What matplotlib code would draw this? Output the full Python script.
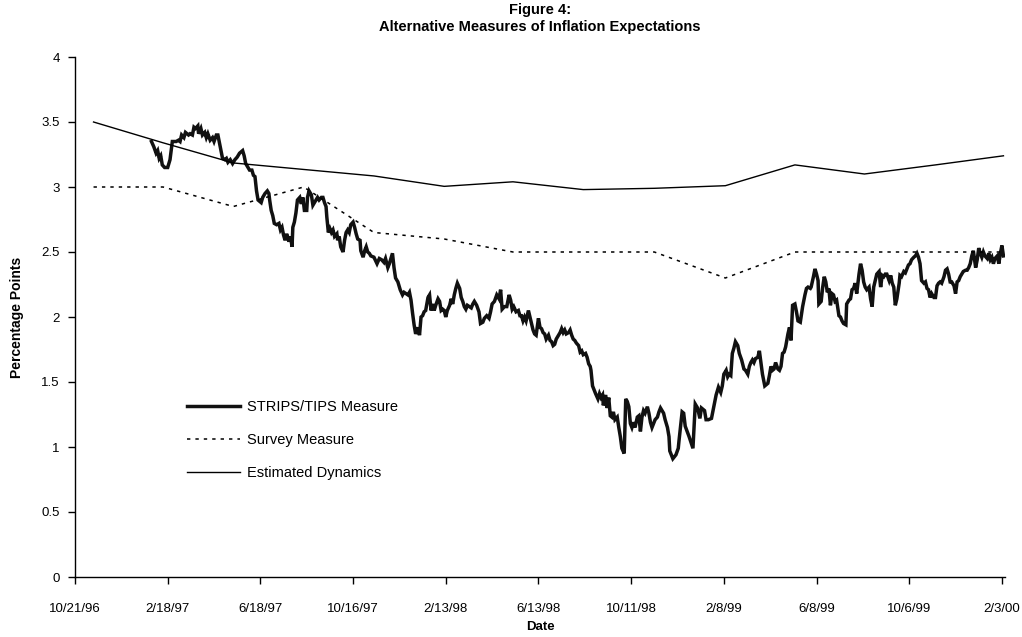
import pandas as pd
import numpy as np
import matplotlib
matplotlib.use('Agg')
import matplotlib.pyplot as plt
from matplotlib.lines import Line2D

plt.rcParams['font.family'] = ['Liberation Sans', 'DejaVu Sans']

# kwartalne punkty: ankieta i oszacowana dynamika
kw_daty = ['1996-11-14', '1997-02-12', '1997-05-14', '1997-08-13', '1997-11-12',
           '1998-02-11', '1998-05-11', '1998-08-10', '1998-11-10', '1999-02-10',
           '1999-05-11', '1999-08-09', '1999-11-09', '2000-02-05']
survey = [3.0, 3.0, 2.85, 3.0, 2.65, 2.6, 2.5, 2.5, 2.5, 2.3, 2.5, 2.5, 2.5, 2.5]
estimated = [3.5, 3.34, 3.185, 3.135, 3.085, 3.005, 3.04, 2.98, 2.99, 3.01,
             3.17, 3.10, 3.17, 3.24]

# STRIPS/TIPS - dni od 10/21/96 i wartosci
start = pd.Timestamp('1996-10-21')
strips_day = [
    99, 102, 105, 107, 109, 111, 113, 116, 120, 123, 125, 126, 131, 134, 136, 138, 141, 143, 147, 149,
    152, 154, 156, 159, 160, 163, 165, 168, 170, 172, 175, 178, 180, 183, 185, 188, 191, 194, 196, 198,
    201, 204, 207, 210, 213, 217, 219, 221, 224, 226, 229, 231, 233, 235, 237, 241, 243, 246, 249, 251,
    252, 254, 256, 258, 261, 264, 266, 268, 270, 272, 274, 277, 279, 281, 282, 284, 286, 288, 291, 293,
    295, 297, 300, 301, 303, 306, 308, 310, 312, 314, 316, 319, 321, 323, 325, 326, 328, 330, 332, 334,
    336, 339, 340, 342, 344, 347, 349, 351, 353, 355, 357, 360, 362, 364, 366, 369, 370, 373, 375, 377,
    379, 381, 383, 387, 391, 394, 397, 400, 402, 405, 407, 411, 413, 415, 418, 421, 424, 426, 431, 433,
    435, 437, 439, 441, 444, 446, 448, 450, 452, 454, 457, 459, 461, 463, 465, 467, 470, 472, 474, 476,
    478, 480, 482, 485, 487, 489, 491, 493, 495, 498, 500, 502, 504, 506, 508, 513, 515, 517, 520, 523,
    525, 528, 530, 533, 536, 538, 540, 543, 546, 549, 551, 553, 556, 559, 562, 564, 566, 568, 571, 574,
    576, 578, 580, 582, 584, 587, 589, 591, 593, 595, 597, 600, 602, 604, 606, 608, 610, 613, 615, 617,
    619, 621, 623, 626, 628, 630, 632, 634, 636, 639, 641, 643, 645, 647, 649, 652, 654, 656, 658, 661,
    663, 665, 667, 668, 670, 672, 674, 677, 679, 681, 683, 684, 687, 689, 691, 693, 695, 697, 699, 702,
    704, 706, 708, 711, 713, 715, 717, 719, 721, 723, 725, 728, 730, 732, 734, 736, 738, 741, 743, 745,
    747, 749, 751, 754, 756, 758, 760, 762, 764, 767, 769, 770, 774, 778, 781, 782, 786, 788, 790, 795,
    800, 803, 806, 809, 811, 815, 817, 820, 824, 827, 830, 833, 836, 838, 840, 843, 845, 847, 849, 851,
    853, 855, 858, 860, 863, 866, 868, 871, 873, 875, 877, 879, 881, 884, 886, 888, 890, 893, 897, 899,
    901, 903, 905, 907, 910, 912, 914, 916, 918, 920, 923, 925, 927, 929, 932, 934, 936, 939, 942, 945,
    947, 949, 952, 953, 956, 958, 960, 962, 963, 966, 968, 970, 972, 974, 976, 978, 980, 982, 984, 986,
    989, 991, 993, 995, 998, 999, 1002, 1004, 1006, 1008, 1010, 1012, 1015, 1017, 1019, 1021, 1023, 1025, 1028, 1030,
    1032, 1034, 1036, 1038, 1041, 1043, 1045, 1047, 1049, 1051, 1054, 1056, 1058, 1060, 1062, 1064, 1067, 1068, 1070, 1073,
    1075, 1077, 1079, 1081, 1083, 1086, 1088, 1090, 1092, 1094, 1096, 1099, 1101, 1103, 1105, 1107, 1109, 1112, 1114, 1116,
    1118, 1120, 1122, 1125, 1127, 1129, 1131, 1133, 1135, 1138, 1140, 1142, 1144, 1146, 1148, 1150, 1153, 1155, 1157, 1159,
    1161, 1163, 1166, 1168, 1170, 1172, 1174, 1176, 1178, 1181, 1183, 1185, 1187, 1189, 1191, 1194, 1196, 1198, 1200, 1202]
strips_val = [
    3.35, 3.31, 3.26, 3.28, 3.22, 3.24, 3.17, 3.15, 3.15, 3.21, 3.30, 3.35, 3.35, 3.36, 3.35, 3.40, 3.38, 3.42, 3.40, 3.41,
    3.40, 3.46, 3.45, 3.47, 3.41, 3.45, 3.40, 3.42, 3.38, 3.41, 3.36, 3.38, 3.35, 3.40, 3.40, 3.31, 3.22, 3.21, 3.22, 3.19,
    3.21, 3.18, 3.21, 3.23, 3.26, 3.28, 3.24, 3.18, 3.15, 3.13, 3.13, 3.09, 3.08, 2.97, 2.90, 2.88, 2.92, 2.95, 2.97, 2.95,
    2.90, 2.82, 2.78, 2.72, 2.71, 2.72, 2.67, 2.69, 2.63, 2.59, 2.64, 2.58, 2.62, 2.54, 2.69, 2.73, 2.80, 2.90, 2.92, 2.87,
    2.92, 2.82, 2.82, 2.92, 2.97, 2.94, 2.86, 2.88, 2.90, 2.92, 2.90, 2.92, 2.92, 2.88, 2.85, 2.77, 2.65, 2.68, 2.65, 2.67,
    2.62, 2.64, 2.59, 2.62, 2.54, 2.50, 2.59, 2.65, 2.67, 2.65, 2.71, 2.73, 2.69, 2.64, 2.60, 2.59, 2.51, 2.46, 2.51, 2.54,
    2.50, 2.49, 2.47, 2.46, 2.41, 2.45, 2.44, 2.42, 2.45, 2.38, 2.41, 2.49, 2.38, 2.30, 2.27, 2.21, 2.17, 2.19, 2.17, 2.19,
    2.13, 2.03, 1.94, 1.87, 1.92, 1.86, 2.00, 2.01, 2.04, 2.05, 2.15, 2.17, 2.05, 2.10, 2.05, 2.09, 2.14, 2.12, 2.05, 2.06,
    2.05, 2.00, 2.05, 2.09, 2.14, 2.10, 2.17, 2.22, 2.26, 2.22, 2.15, 2.12, 2.08, 2.06, 2.09, 2.07, 2.10, 2.12, 2.09, 2.04,
    1.95, 1.96, 1.99, 2.01, 1.99, 2.04, 2.10, 2.12, 2.17, 2.14, 2.21, 2.06, 2.08, 2.08, 2.17, 2.13, 2.06, 2.08, 2.04, 2.05,
    2.01, 2.01, 1.97, 2.00, 1.97, 2.05, 2.00, 1.95, 1.90, 1.87, 1.86, 1.99, 1.92, 1.91, 1.88, 1.87, 1.83, 1.86, 1.82, 1.81,
    1.78, 1.79, 1.83, 1.86, 1.88, 1.91, 1.88, 1.90, 1.87, 1.88, 1.90, 1.86, 1.83, 1.82, 1.80, 1.78, 1.73, 1.74, 1.71, 1.72,
    1.69, 1.64, 1.62, 1.59, 1.47, 1.44, 1.41, 1.37, 1.41, 1.38, 1.40, 1.32, 1.40, 1.30, 1.38, 1.24, 1.23, 1.27, 1.21, 1.23,
    1.15, 1.08, 0.99, 0.95, 1.37, 1.35, 1.31, 1.18, 1.15, 1.19, 1.15, 1.23, 1.24, 1.12, 1.23, 1.28, 1.26, 1.31, 1.26, 1.19,
    1.15, 1.18, 1.21, 1.23, 1.27, 1.30, 1.28, 1.26, 1.21, 1.15, 1.08, 0.97, 0.91, 0.94, 0.99, 1.05, 1.27, 1.26, 1.16, 1.08,
    0.99, 1.33, 1.30, 1.22, 1.30, 1.28, 1.21, 1.21, 1.22, 1.31, 1.40, 1.46, 1.42, 1.47, 1.56, 1.59, 1.54, 1.56, 1.55, 1.72,
    1.76, 1.81, 1.78, 1.72, 1.67, 1.60, 1.59, 1.56, 1.62, 1.65, 1.67, 1.65, 1.68, 1.69, 1.74, 1.65, 1.56, 1.47, 1.49, 1.55,
    1.62, 1.59, 1.60, 1.65, 1.60, 1.59, 1.62, 1.72, 1.73, 1.77, 1.87, 1.92, 1.82, 2.09, 2.10, 2.04, 1.97, 1.96, 2.08, 2.17,
    2.22, 2.23, 2.22, 2.23, 2.31, 2.37, 2.33, 2.28, 2.10, 2.12, 2.23, 2.31, 2.27, 2.19, 2.22, 2.09, 2.18, 2.17, 2.12, 2.13,
    2.01, 2.00, 1.97, 1.95, 1.94, 2.10, 2.13, 2.14, 2.21, 2.22, 2.26, 2.18, 2.33, 2.41, 2.36, 2.27, 2.23, 2.21, 2.23, 2.14,
    2.08, 2.23, 2.28, 2.33, 2.35, 2.23, 2.32, 2.31, 2.33, 2.33, 2.28, 2.32, 2.26, 2.23, 2.09, 2.14, 2.26, 2.32, 2.31, 2.35,
    2.34, 2.37, 2.40, 2.41, 2.44, 2.46, 2.47, 2.49, 2.46, 2.41, 2.28, 2.26, 2.27, 2.22, 2.21, 2.15, 2.18, 2.15, 2.15, 2.24,
    2.26, 2.27, 2.26, 2.31, 2.36, 2.37, 2.33, 2.27, 2.27, 2.24, 2.18, 2.27, 2.28, 2.31, 2.33, 2.35, 2.36, 2.36, 2.38, 2.41,
    2.47, 2.51, 2.38, 2.44, 2.53, 2.49, 2.46, 2.50, 2.47, 2.45, 2.49, 2.44, 2.46, 2.41, 2.45, 2.47, 2.41, 2.49, 2.55, 2.47]

tick_days = [0, 120, 240, 360, 480, 600, 720, 840, 960, 1080, 1200]
y_ticks = [0, 0.5, 1, 1.5, 2, 2.5, 3, 3.5, 4]

kw_x = pd.to_datetime(kw_daty)
strips_x = start + pd.to_timedelta(strips_day, unit='D')
tick_x = [start + pd.Timedelta(days=d) for d in tick_days]

fig = plt.figure(figsize=(10.22, 6.37), dpi=100)
ax = fig.add_axes([75 / 1022, 60 / 637, 930 / 1022, 520 / 637])

ax.plot(strips_x, strips_val, color='#111111', lw=2.5, solid_joinstyle='miter')
ax.plot(kw_x, survey, color='black', lw=1.1, linestyle=(0, (2.2, 3.3)))
ax.plot(kw_x, estimated, color='black', lw=1.0)

ax.set_xlim(start, pd.Timestamp('2000-02-07'))
ax.set_ylim(0, 4)
ax.set_xticks(tick_x)
ax.set_xticklabels([f'{d.month}/{d.day}/{d.year % 100:02d}' for d in tick_x])
ax.set_yticks(y_ticks)
ax.set_yticklabels([f'{v:g}' for v in y_ticks])

for s in ['top', 'right']:
    ax.spines[s].set_visible(False)
for s in ['left', 'bottom']:
    ax.spines[s].set_linewidth(1.0)
ax.tick_params(axis='both', direction='out', length=5, width=1.0, labelsize=9.5)
ax.tick_params(axis='x', pad=14)
ax.tick_params(axis='y', pad=6)

fig.text(540 / 1022, 1 - 3 / 637, 'Figure 4:\nAlternative Measures of Inflation Expectations',
         ha='center', va='top', fontsize=10.5, fontweight='bold', linespacing=1.25)
fig.text(540 / 1022, 10 / 637, 'Date', ha='center', va='center', fontsize=9.5, fontweight='bold')
fig.text(17 / 1022, 1 - 317 / 637, 'Percentage Points', ha='center', va='center',
         rotation=90, fontsize=10, fontweight='bold')

handles = [Line2D([], [], color='#111111', lw=2.5),
           Line2D([], [], color='black', lw=1.1, linestyle=(0, (2.2, 3.3))),
           Line2D([], [], color='black', lw=1.0)]
labels = ['STRIPS/TIPS Measure', 'Survey Measure', 'Estimated Dynamics']
ax.legend(handles, labels, loc='upper left', bbox_to_anchor=((187 - 75) / 930, (577 - 400) / 520),
          frameon=False, fontsize=10.5, handlelength=3.6, handletextpad=0.5,
          labelspacing=1.3, borderaxespad=0, borderpad=0)

plt.savefig('out.png', dpi=100)
